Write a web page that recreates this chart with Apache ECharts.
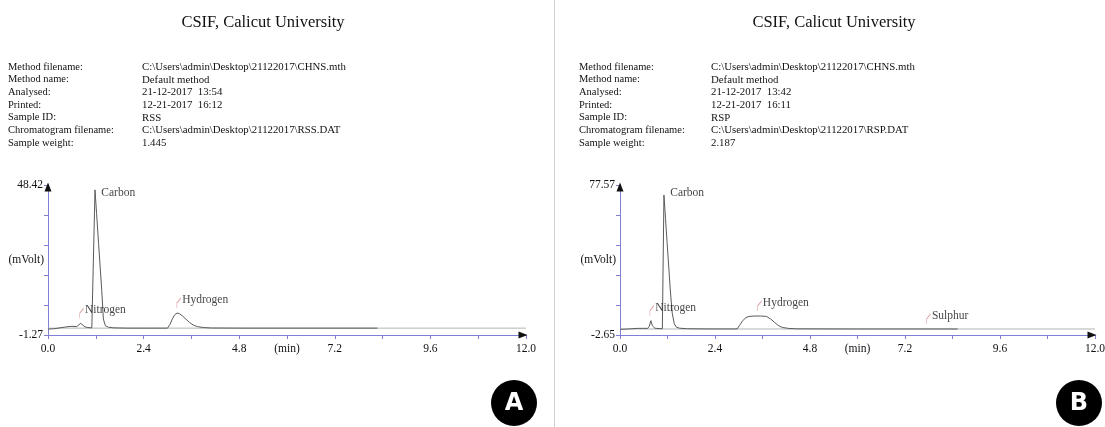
<!DOCTYPE html>
<html>
<head>
<meta charset="utf-8">
<script src="https://cdn.jsdelivr.net/npm/echarts@6/dist/echarts.min.js"></script>
<style>
  html, body { margin: 0; padding: 0; background: #fff; }
  #chart { width: 1105px; height: 427px; }
</style>
</head>
<body>
<div id="chart"></div>
<script>
// Report header text
const reportTitle = 'CSIF, Calicut University';
const infoLabels = ['Method filename:', 'Method name:', 'Analysed:', 'Printed:', 'Sample ID:', 'Chromatogram filename:', 'Sample weight:'];
const infoValuesA = ['C:\\Users\\admin\\Desktop\\21122017\\CHNS.mth', 'Default method', '21-12-2017  13:54', '12-21-2017  16:12', 'RSS', 'C:\\Users\\admin\\Desktop\\21122017\\RSS.DAT', '1.445'];
const infoValuesB = ['C:\\Users\\admin\\Desktop\\21122017\\CHNS.mth', 'Default method', '21-12-2017  13:42', '12-21-2017  16:11', 'RSP', 'C:\\Users\\admin\\Desktop\\21122017\\RSP.DAT', '2.187'];

// Time axis (min)
const xMin = 0, xMax = 12, xStep = 1.2;
const xTickLabels = ['0.0', '', '2.4', '', '4.8', '(min)', '7.2', '', '9.6', '', '12.0'];

// Detector axis (mVolt)
const yRangeA = [-1.27, 48.42];
const yRangeB = [-2.65, 77.57];
const yTickLabelsA = ['-1.27', '', '', '', '', '48.42'];
const yTickLabelsB = ['-2.65', '', '', '', '', '77.57'];
const yAxisName = '(mVolt)';

// Detector signal, sample RSS: [time, mV]
const signalA = [
  [0.00, 0.7], [0.15, 0.8], [0.30, 1.1], [0.45, 1.4], [0.60, 1.6], [0.72, 1.5],
  [0.77, 1.9], [0.82, 2.6], [0.87, 2.0], [0.93, 1.4], [1.00, 1.2], [1.10, 1.1],
  [1.15, 1.1], [1.18, 46.8], [1.22, 38.9], [1.27, 29.0], [1.31, 21.2], [1.35, 13.4],
  [1.39, 4.0], [1.44, 1.8], [1.52, 1.3], [1.65, 1.1], [2.00, 1.0], [2.60, 1.0],
  [3.00, 1.0], [3.06, 2.2], [3.12, 4.0], [3.18, 5.4], [3.24, 6.0], [3.30, 5.8],
  [3.38, 5.0], [3.46, 4.0], [3.55, 2.9], [3.65, 2.0], [3.75, 1.5], [3.90, 1.2],
  [4.10, 1.05], [5.00, 1.0], [8.27, 1.0]
];
// Detector signal, sample RSP: [time, mV]
const signalB = [
  [0.00, 0.4], [0.15, 0.5], [0.30, 0.7], [0.45, 0.9], [0.60, 0.9], [0.70, 0.9],
  [0.74, 2.0], [0.78, 5.0], [0.82, 2.2], [0.88, 1.0], [0.96, 0.8], [1.07, 0.7],
  [1.11, 72.2], [1.15, 59.5], [1.19, 46.8], [1.23, 34.2], [1.27, 21.4], [1.32, 9.0],
  [1.37, 3.5], [1.42, 1.6], [1.50, 1.0], [1.70, 0.7], [2.20, 0.6], [2.96, 0.6],
  [3.02, 2.5], [3.10, 5.0], [3.18, 6.6], [3.26, 7.3], [3.40, 7.5], [3.55, 7.5],
  [3.70, 7.3], [3.80, 6.0], [3.90, 4.2], [4.00, 2.4], [4.10, 1.4], [4.25, 0.9],
  [4.45, 0.65], [6.00, 0.56], [8.53, 0.56]
];

// Integration baselines (mV)
const baselineA = 1.0;
const baselineB = 0.56;

// Identified peaks
const peakNamesA = ['Nitrogen', 'Carbon', 'Hydrogen'];
const peakTimesA = [0.82, 1.18, 3.26];
const peakValuesA = [2.6, 46.8, 6.0];
const peakNamesB = ['Nitrogen', 'Carbon', 'Hydrogen', 'Sulphur'];
const peakTimesB = [0.78, 1.11, 3.50, 7.77];
const peakValuesB = [5.0, 72.2, 7.5, 0.56];

const serif = '"Liberation Serif", "Times New Roman", serif';
const textColor = '#111';
const axisColor = '#7f7fd6';

const chart = echarts.init(document.getElementById('chart'), null, { renderer: 'canvas' });

const grids = [
  { left: 48, right: 579, top: 185, bottom: 92, outerBoundsMode: 'none', containLabel: false },
  { left: 620, right: 10, top: 185, bottom: 92, outerBoundsMode: 'none', containLabel: false }
];

function xAxisFor(gridIndex) {
  return {
    type: 'value', gridIndex, min: xMin, max: xMax, interval: xStep,
    axisLine: { show: true, onZero: false, lineStyle: { color: axisColor, width: 1 } },
    axisTick: { show: true, length: 4, lineStyle: { color: axisColor } },
    splitLine: { show: false },
    axisLabel: {
      margin: 8, fontFamily: serif, fontSize: 11.5, color: textColor,
      formatter: (v, i) => xTickLabels[i] !== undefined ? xTickLabels[i] : ''
    }
  };
}

function yAxisFor(gridIndex, range, labels) {
  return {
    type: 'value', gridIndex, min: range[0], max: range[1],
    interval: (range[1] - range[0]) / 5,
    name: yAxisName, nameLocation: 'middle', nameRotate: 0, nameGap: 4,
    nameMoveOverlap: false,
    nameTextStyle: { fontFamily: serif, fontSize: 11.5, color: textColor, padding: [3, 0, 0, 0] },
    axisLine: { show: true, onZero: false, lineStyle: { color: axisColor, width: 1 } },
    axisTick: { show: true, length: 4, lineStyle: { color: axisColor } },
    splitLine: { show: false },
    axisLabel: {
      margin: 5, fontFamily: serif, fontSize: 11.5, color: textColor,
      formatter: (v, i) => labels[i] !== undefined ? labels[i] : ''
    }
  };
}

function signalSeries(idx, data) {
  return {
    type: 'line', xAxisIndex: idx, yAxisIndex: idx, data,
    showSymbol: false, symbol: 'none', z: 4,
    lineStyle: { color: '#5a5a5a', width: 1 }
  };
}

function baselineSeries(idx, level, range) {
  return {
    type: 'line', xAxisIndex: idx, yAxisIndex: idx,
    data: [[xMin, level], [xMax, level]],
    showSymbol: false, symbol: 'none', z: 3,
    lineStyle: { color: '#b4b4b4', width: 1 },
    // axis arrow heads
    markPoint: {
      silent: true,
      symbol: 'triangle',
      itemStyle: { color: '#111' },
      label: { show: false },
      data: [
        { coord: [xMax, range[0]], symbolSize: [7, 9], symbolRotate: -90, symbolOffset: [-3, 0] },
        { coord: [xMin, range[1]], symbolSize: [7, 9], symbolOffset: [0, 2] }
      ]
    }
  };
}

function peakLabelSeries(idx, names, times, values, apexLabelDy) {
  return {
    type: 'scatter', xAxisIndex: idx, yAxisIndex: idx, z: 6, silent: true,
    data: names.map((n, i) => {
      const item = { name: n, value: [times[i], values[i]] };
      if (n === 'Carbon') {
        // tallest peak: name sits beside the apex without a marker
        item.itemStyle = { borderColor: 'rgba(0,0,0,0)' };
        item.symbolOffset = [2, 0];
        item.label = { position: 'right', distance: 2, offset: [0, apexLabelDy] };
      }
      return item;
    }),
    symbol: 'path://M0,12 L0,6 L4,0',
    symbolSize: [4, 10],
    symbolOffset: [1, -10],
    itemStyle: { color: 'rgba(0,0,0,0)', borderColor: '#d79a9a', borderWidth: 1 },
    label: {
      show: true, position: 'right', distance: 1, offset: [0, -3],
      formatter: p => p.name,
      fontFamily: serif, fontSize: 11.5, color: textColor
    }
  };
}

function infoGraphics(labelX, valueX, values) {
  const out = [];
  infoLabels.forEach((t, i) => {
    const y = 67 + i * 12.67;
    out.push({ type: 'text', x: labelX, y, style: { text: t, font: '10.5px ' + serif, fill: textColor, textVerticalAlign: 'middle' } });
    out.push({ type: 'text', x: valueX, y, style: { text: values[i], font: '10.8px ' + serif, fill: textColor, textVerticalAlign: 'middle' } });
  });
  return out;
}

function badge(cx, cy, letter) {
  return [
    { type: 'circle', shape: { cx, cy, r: 23 }, style: { fill: '#000' } },
    { type: 'text', x: cx, y: cy + 1, style: { text: letter, font: 'bold 24px "DejaVu Sans", sans-serif', fill: '#fff', textAlign: 'center', textVerticalAlign: 'middle' } }
  ];
}

const graphics = [
  { type: 'line', shape: { x1: 554.5, y1: 0, x2: 554.5, y2: 427 }, style: { stroke: '#cfcfcf', lineWidth: 1 } },
  { type: 'text', x: 263, y: 23, style: { text: reportTitle, font: '16.5px ' + serif, fill: textColor, textAlign: 'center', textVerticalAlign: 'middle' } },
  { type: 'text', x: 834, y: 23, style: { text: reportTitle, font: '16.5px ' + serif, fill: textColor, textAlign: 'center', textVerticalAlign: 'middle' } },
  ...infoGraphics(8, 142, infoValuesA),
  ...infoGraphics(579, 711, infoValuesB),
  ...badge(514, 403, 'A'),
  ...badge(1079, 403, 'B')
];

chart.setOption({
  animation: false,
  backgroundColor: '#fff',
  grid: grids,
  xAxis: [xAxisFor(0), xAxisFor(1)],
  yAxis: [yAxisFor(0, yRangeA, yTickLabelsA), yAxisFor(1, yRangeB, yTickLabelsB)],
  series: [
    baselineSeries(0, baselineA, yRangeA),
    signalSeries(0, signalA),
    peakLabelSeries(0, peakNamesA, peakTimesA, peakValuesA, 3),
    baselineSeries(1, baselineB, yRangeB),
    signalSeries(1, signalB),
    peakLabelSeries(1, peakNamesB, peakTimesB, peakValuesB, -2)
  ],
  graphic: graphics
});
</script>
</body>
</html>
